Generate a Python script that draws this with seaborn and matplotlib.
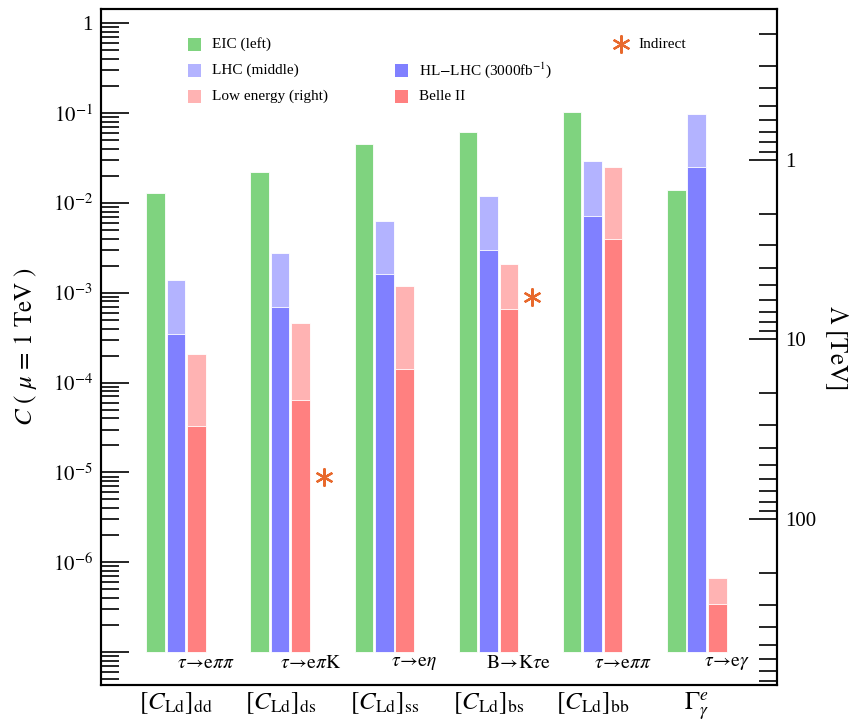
import numpy as np
import pandas as pd
import matplotlib
matplotlib.use('Agg')
import matplotlib.pyplot as plt
import seaborn as sns
from matplotlib.patches import Rectangle
from matplotlib.ticker import LogLocator, NullFormatter

# Operadores (eje x)
operadores = [r'$[C_{\rm Ld}]_{\rm dd}$', r'$[C_{\rm Ld}]_{\rm ds}$', r'$[C_{\rm Ld}]_{\rm ss}$',
              r'$[C_{\rm Ld}]_{\rm bs}$', r'$[C_{\rm Ld}]_{\rm bb}$', r'$\Gamma^{e}_{\gamma}$']

# Limites en C(mu = 1 TeV)
eic = [1.3e-2, 2.2e-2, 4.5e-2, 6.2e-2, 1.03e-1, 1.4e-2]
lhc = [1.4e-3, 2.8e-3, 6.3e-3, 1.2e-2, 2.9e-2, 9.8e-2]
hl_lhc = [3.5e-4, 7.0e-4, 1.6e-3, 3.0e-3, 7.2e-3, 2.5e-2]
baja_energia = [2.1e-4, 4.6e-4, 1.2e-3, 2.1e-3, 2.5e-2, 6.6e-7]
belle2 = [3.3e-5, 6.4e-5, 1.4e-4, 6.6e-4, 4.0e-3, 3.4e-7]

# Procesos de baja energia
procesos = [r'$\tau\!\rightarrow\!{\rm e}\pi\pi$', r'$\tau\!\rightarrow\!{\rm e}\pi{\rm K}$',
            r'$\tau\!\rightarrow\!{\rm e}\eta$', r'${\rm B}\!\rightarrow\!{\rm K}\tau{\rm e}$',
            r'$\tau\!\rightarrow\!{\rm e}\pi\pi$', r'$\tau\!\rightarrow\!{\rm e}\gamma$']

# Limites indirectos
indirecto_idx = [1, 3]
indirecto_c = [9e-6, 9e-4]

verde = '#7fd37f'
azul_claro = '#b3b3ff'
azul = '#8080ff'
rojo_claro = '#ffb3b3'
rojo = '#ff8080'
naranja = '#e8692c'

plt.rcParams['font.family'] = ['Liberation Serif', 'DejaVu Serif']
plt.rcParams['mathtext.fontset'] = 'stix'

# las barras empiezan en C = 1e-7 (altura = valor - base)
base = 1e-7
orden = ['EIC', 'LHC', 'Low']
capa1 = pd.DataFrame({'operador': operadores * 3,
                      'exp': ['EIC'] * 6 + ['LHC'] * 6 + ['Low'] * 6,
                      'C': np.array(eic + lhc + baja_energia) - base})
capa2 = pd.DataFrame({'operador': operadores * 3,
                      'exp': ['EIC'] * 6 + ['LHC'] * 6 + ['Low'] * 6,
                      'C': np.array(eic + hl_lhc + belle2) - base})

fig = plt.figure(figsize=(8.49, 7.23), dpi=100)
ax = fig.add_axes([101 / 849, 38 / 723, 676 / 849, 676 / 723])

comun = dict(x='operador', y='C', hue='exp', hue_order=orden, order=operadores,
             width=0.59, gap=0.09, errorbar=None, legend=False, ax=ax,
             bottom=base, edgecolor='white', linewidth=0.6, saturation=1)
sns.barplot(data=capa1, palette={'EIC': verde, 'LHC': azul_claro, 'Low': rojo_claro}, **comun)
sns.barplot(data=capa2, palette={'EIC': verde, 'LHC': azul, 'Low': rojo}, **comun)

ax.set_yscale('log')
ymin, ymax = 4.29e-8, 1.446
ax.set_ylim(ymin, ymax)
ax.set_xlim(-0.72, 5.77)

# asteriscos de limites indirectos
ax.plot(np.array(indirecto_idx) + 0.42, indirecto_c, ls='none', marker=(6, 2, 0),
        ms=13, mew=1.6, color=naranja)

# etiquetas de procesos
for i, p in enumerate(procesos):
    ax.text(i + 0.29, 7.4e-8, p, ha='center', va='center', fontsize=14)

# eje izquierdo
ax.set_yticks([10.0 ** k for k in range(0, -8, -1)])
ax.set_yticklabels(['1'] + [r'$10^{%d}$' % k for k in range(-1, -7, -1)] + [''])
ax.yaxis.set_minor_locator(LogLocator(base=10, subs=np.arange(2, 10), numticks=20))
ax.yaxis.set_minor_formatter(NullFormatter())
ax.tick_params(axis='y', which='major', direction='in', length=20, width=1.2, labelsize=15, pad=6)
ax.tick_params(axis='y', which='minor', direction='in', length=13, width=1.2)
ax.tick_params(axis='x', length=0, labelsize=18, pad=4)
ax.set_xlabel('')
ax.set_ylabel(r'$C\ (\ \mu\,=\,1\ {\rm TeV}\ )$', fontsize=18, labelpad=10)
for s in ax.spines.values():
    s.set_linewidth(1.5)

# eje derecho: Lambda = v / sqrt(2 C)
v = 0.246
lam = lambda c: v / np.sqrt(2 * c)
ax2 = ax.twinx()
ax2.set_yscale('log')
ax2.set_ylim(lam(ymin), lam(ymax))
ax2.set_yticks([1, 10, 100])
ax2.set_yticklabels(['1', '10', '100'])
ax2.yaxis.set_minor_locator(LogLocator(base=10, subs=np.arange(2, 10), numticks=20))
ax2.yaxis.set_minor_formatter(NullFormatter())
ax2.tick_params(axis='y', which='major', direction='in', length=20, width=1.2, labelsize=15, pad=6)
ax2.tick_params(axis='y', which='minor', direction='in', length=13, width=1.2)
ax2.set_ylabel(r'$\Lambda\ [{\rm TeV}]$', fontsize=18, rotation=-90, labelpad=14, va='center')
for s in ax2.spines.values():
    s.set_linewidth(1.5)

# leyenda manual
def fx(px):
    return (px - 101) / 676

def fy(py):
    return (685 - py) / 676

entradas = [(188, 44, verde, 'EIC (left)'),
            (188, 70, azul_claro, 'LHC (middle)'),
            (188, 96, rojo_claro, 'Low energy (right)'),
            (395, 70, azul, r'HL$-$LHC (3000fb$^{-1}$)'),
            (395, 96, rojo, 'Belle II')]
for px, py, col, txt in entradas:
    ax.add_patch(Rectangle((fx(px), fy(py + 7)), 13 / 676, 13 / 676, transform=ax.transAxes,
                           facecolor=col, edgecolor='none', clip_on=False))
    ax.text(fx(px + 24), fy(py), txt, transform=ax.transAxes, ha='left', va='center', fontsize=11)
ax.plot([fx(621)], [fy(44)], transform=ax.transAxes, ls='none', marker=(6, 2, 0),
        ms=13, mew=1.6, color=naranja)
ax.text(fx(638), fy(44), 'Indirect', transform=ax.transAxes, ha='left', va='center', fontsize=11)

fig.savefig('out.png', dpi=100)
